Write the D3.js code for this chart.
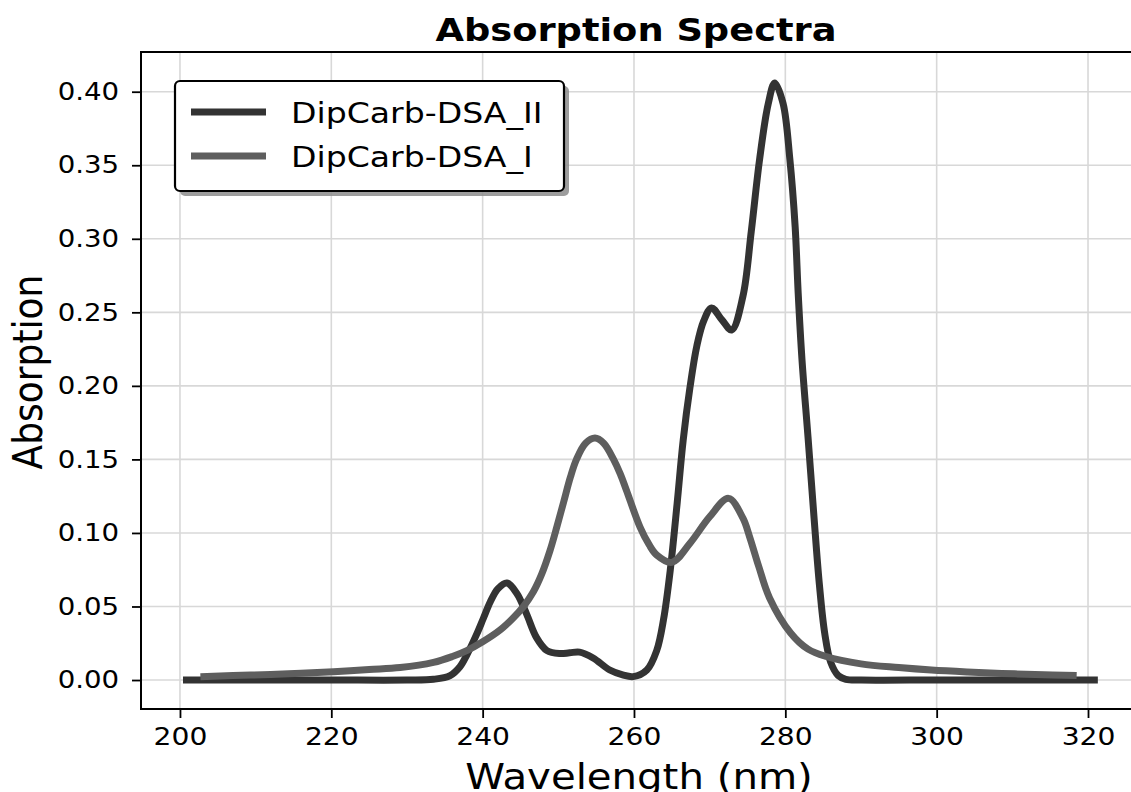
<!DOCTYPE html>
<html>
<head>
<meta charset="utf-8">
<script src="https://cdn.jsdelivr.net/npm/d3@7"></script>
<style>
  body { margin: 0; background: #fff; }
  text { font-family: "DejaVu Sans", sans-serif; fill: #000; }
</style>
</head>
<body>
<svg id="chart" width="1131" height="792"></svg>
<script>
// values
var xTicks = [200, 220, 240, 260, 280, 300, 320];
var yTicks = [0, 0.05, 0.10, 0.15, 0.20, 0.25, 0.30, 0.35, 0.40];

var waveII = [200.4, 210, 220, 230, 233.5, 235.7, 237.0, 237.9, 239.2, 240.1, 241.0, 242.0, 243.2, 244.5, 245.8, 247.1, 248.5, 250.2, 251.5, 252.8, 254.6, 256.8, 258.5, 259.9, 261.7, 263.0, 263.9, 264.8, 265.7, 266.5, 267.4, 268.3, 269.2, 270.25, 271.6, 272.9, 274.4, 275.5, 276.6, 277.75, 278.6, 279.7, 280.6, 281.3, 281.7, 282.2, 283.0, 283.8, 284.5, 285.2, 286.0, 287.0, 288.0, 290, 300, 310, 321.3];
var absII = [0, 0, 0, 0, 0.0005, 0.003, 0.009, 0.017, 0.031, 0.042, 0.053, 0.062, 0.066, 0.059, 0.045, 0.029, 0.020, 0.018, 0.0185, 0.019, 0.015, 0.0068, 0.0035, 0.0023, 0.0068, 0.020, 0.041, 0.075, 0.120, 0.163, 0.199, 0.227, 0.244, 0.253, 0.245, 0.238, 0.261, 0.305, 0.354, 0.392, 0.406, 0.392, 0.354, 0.308, 0.263, 0.218, 0.165, 0.110, 0.065, 0.032, 0.012, 0.003, 0.0005, 0, 0, 0, 0];

var waveI = [202.7, 207, 212, 216, 220.3, 225, 229.1, 233.5, 236, 237.9, 240, 242.3, 244, 245.4, 246.7, 247.8, 248.9, 249.8, 250.7, 251.6, 252.4, 253.6, 254.85, 256.0, 257.3, 258.2, 259.0, 260.8, 262.0, 263.0, 265.0, 267.4, 270.0, 272.5, 274.4, 275.3, 276.5, 277.9, 280.7, 283, 285.4, 290.0, 295, 299.3, 304, 308.6, 313, 318.5];
var absI = [0.0023, 0.003, 0.0038, 0.0046, 0.0057, 0.0072, 0.0085, 0.012, 0.016, 0.020, 0.026, 0.034, 0.042, 0.050, 0.060, 0.072, 0.088, 0.104, 0.121, 0.138, 0.150, 0.161, 0.1645, 0.161, 0.150, 0.140, 0.129, 0.104, 0.092, 0.085, 0.080, 0.093, 0.111, 0.1235, 0.110, 0.097, 0.077, 0.056, 0.032, 0.021, 0.016, 0.011, 0.0085, 0.0068, 0.0055, 0.0045, 0.0038, 0.003];

var seriesNames = ['DipCarb-DSA_II', 'DipCarb-DSA_I'];
var seriesColors = ['#333333', '#5e5e5e'];

// the reference is a bit wider than tall, text is stretched sideways
var stretch = 1.15;

var plotLeft = 141, plotRight = 1144, plotTop = 52, plotBottom = 709;

var svg = d3.select('#chart');

var xScale = d3.scaleLinear()
               .domain([194.85, 327.4])
               .range([plotLeft, plotRight]);

var yScale = d3.scaleLinear()
               .domain([-0.0197, 0.4270])
               .range([plotBottom, plotTop]);

// grid
var grid = svg.append('g').attr('class', 'grid');
grid.selectAll('.gx')
    .data(xTicks)
    .enter().append('line')
    .attr('x1', function(d){ return xScale(d); })
    .attr('x2', function(d){ return xScale(d); })
    .attr('y1', plotTop)
    .attr('y2', plotBottom)
    .style('stroke', '#d8d8d8')
    .style('stroke-width', '1.6px');
grid.selectAll('.gy')
    .data(yTicks)
    .enter().append('line')
    .attr('x1', plotLeft)
    .attr('x2', plotRight)
    .attr('y1', function(d){ return yScale(d); })
    .attr('y2', function(d){ return yScale(d); })
    .style('stroke', '#d8d8d8')
    .style('stroke-width', '1.6px');

// spectra
var line = d3.line()
             .x(function(d){ return xScale(d[0]); })
             .y(function(d){ return yScale(d[1]); })
             .curve(d3.curveCatmullRom.alpha(0.5));

var dataII = waveII.map(function(w, i){ return [w, absII[i]]; });
var dataI = waveI.map(function(w, i){ return [w, absI[i]]; });

[dataII, dataI].forEach(function(data, i){
  svg.append('path')
     .datum(data)
     .attr('d', line)
     .style('fill', 'none')
     .style('stroke', seriesColors[i])
     .style('stroke-width', '7px')
     .style('stroke-linejoin', 'round');
});

// axes
var xAxis = svg.append('g')
   .attr('transform', 'translate(0,' + plotBottom + ')')
   .call(d3.axisBottom(xScale).tickValues(xTicks).tickSize(9).tickPadding(10).tickFormat(d3.format('d')));
xAxis.selectAll('text')
     .style('font-size', '24.5px')
     .attr('transform', 'scale(' + stretch + ',1)');

var yAxis = svg.append('g')
   .attr('transform', 'translate(' + plotLeft + ',0)')
   .call(d3.axisLeft(yScale).tickValues(yTicks).tickSize(9).tickPadding(10).tickFormat(d3.format('.2f')));
yAxis.selectAll('text')
     .style('font-size', '24px')
     .attr('transform', 'scale(' + stretch + ',1)');

svg.selectAll('.domain').remove();
svg.selectAll('.tick line').style('stroke', '#000').style('stroke-width', '1.8px');

// frame
svg.append('rect')
   .attr('x', plotLeft)
   .attr('y', plotTop)
   .attr('width', plotRight - plotLeft)
   .attr('height', plotBottom - plotTop)
   .style('fill', 'none')
   .style('stroke', '#000')
   .style('stroke-width', '2px');

// titles
svg.append('text')
   .attr('transform', 'translate(636,41) scale(' + stretch + ',1)')
   .attr('text-anchor', 'middle')
   .style('font-size', '32px')
   .style('font-weight', 'bold')
   .text('Absorption Spectra');

svg.append('text')
   .attr('transform', 'translate(639,789) scale(' + stretch + ',1)')
   .attr('text-anchor', 'middle')
   .style('font-size', '35px')
   .text('Wavelength (nm)');

svg.append('text')
   .attr('transform', 'translate(42,372) scale(' + stretch + ',1) rotate(-90)')
   .attr('text-anchor', 'middle')
   .style('font-size', '36px')
   .text('Absorption');

// legend
var legend = svg.append('g').attr('class', 'legend');
legend.append('rect')
      .attr('x', 180).attr('y', 86)
      .attr('width', 389).attr('height', 110)
      .attr('rx', 5)
      .style('fill', '#8c8c8c')
      .style('opacity', 0.85);
legend.append('rect')
      .attr('x', 175).attr('y', 81)
      .attr('width', 389).attr('height', 110)
      .attr('rx', 5)
      .style('fill', '#fff')
      .style('stroke', '#000')
      .style('stroke-width', '2.2px');

seriesNames.forEach(function(name, i){
  var ly = 112 + i * 44;
  legend.append('line')
        .attr('x1', 191).attr('x2', 266)
        .attr('y1', ly).attr('y2', ly)
        .style('stroke', seriesColors[i])
        .style('stroke-width', '7px');
  legend.append('text')
        .attr('transform', 'translate(291,' + (ly + 10.7) + ') scale(' + stretch + ',1)')
        .style('font-size', '28.8px')
        .text(name);
});
</script>
</body>
</html>
